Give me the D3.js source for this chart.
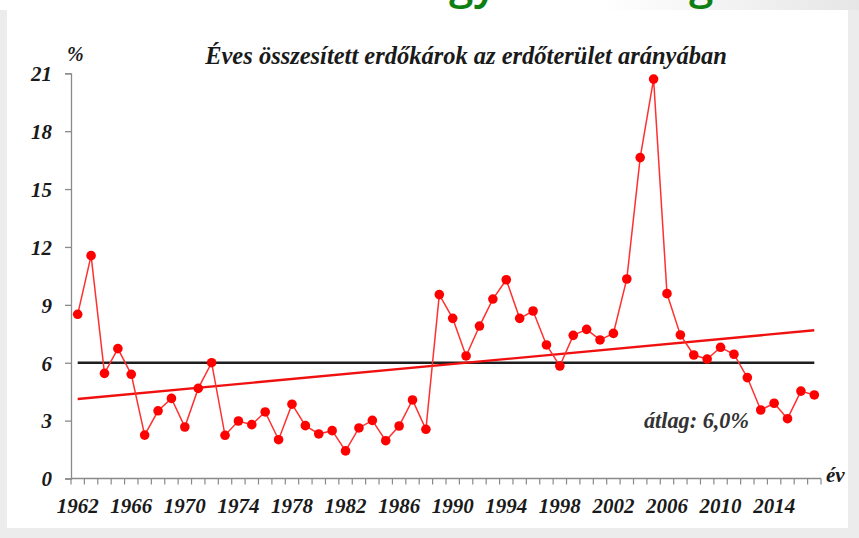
<!DOCTYPE html>
<html>
<head>
<meta charset="utf-8">
<script src="https://cdn.jsdelivr.net/npm/d3@7"></script>
<style>
  html, body { margin: 0; padding: 0; background: #ececec; }
  svg { display: block; }
</style>
</head>
<body>
<svg id="chart" width="859" height="538"></svg>
<script>
// ---- data ----
const years = d3.range(1962, 2018);
const damage = [
  8.51, 11.55, 5.45, 6.73, 5.40, 2.25, 3.51, 4.15, 2.67, 4.67,
  6.00, 2.24, 2.98, 2.79, 3.45, 2.01, 3.85, 2.74, 2.31, 2.48,
  1.43, 2.62, 3.01, 1.96, 2.72, 4.07, 2.55, 9.53, 8.30, 6.35,
  7.90, 9.30, 10.30, 8.30, 8.68, 6.92, 5.83, 7.42, 7.73, 7.18,
  7.52, 10.34, 16.63, 20.70, 9.58, 7.44, 6.40, 6.19, 6.80, 6.44,
  5.23, 3.55, 3.90, 3.10, 4.53, 4.33
];
const meanValue = 6.0;
const yTicks = [0, 3, 6, 9, 12, 15, 18, 21];
const xTickLabels = [1962, 1966, 1970, 1974, 1978, 1982, 1986, 1990, 1994, 1998, 2002, 2006, 2010, 2014];
const titleText = "Éves összesített erdőkárok az erdőterület arányában";
const meanLabel = "átlag: 6,0%";

// ---- helpers ----
function serif(sel, size, color) {
  return sel.style("font-family", "'Liberation Serif', monospace")
    .style("font-weight", "bold").style("font-style", "italic")
    .attr("font-size", size).attr("fill", color || "#1a1a1a");
}
function fitWidth(sel, target) {
  const w = sel.node().getComputedTextLength();
  const s = +sel.attr("font-size");
  if (w > 0) sel.attr("font-size", s * target / w);
}

// ---- layout ----
const svg = d3.select("#chart");
svg.append("rect").attr("x", 7).attr("y", 10).attr("width", 841).attr("height", 518).attr("fill", "#ffffff");
const grad = svg.append("defs").append("linearGradient").attr("id", "topg").attr("x1", 0).attr("x2", 1);
grad.append("stop").attr("offset", "0").attr("stop-color", "#ffffff");
grad.append("stop").attr("offset", "0.7").attr("stop-color", "#ffffff");
grad.append("stop").attr("offset", "1").attr("stop-color", "#e6e6e6");
svg.append("rect").attr("x", 0).attr("y", 0).attr("width", 859).attr("height", 10).attr("fill", "url(#topg)");

// partial slide heading (cut off at the top, as in the source slide)
svg.append("text").attr("x", 449).attr("y", -1).attr("fill", "#0e7f12")
  .style("font-family", "'Open Sans', sans-serif").style("font-weight", "600").attr("font-size", 44).text("gy");
svg.append("text").attr("x", 689).attr("y", -1).attr("fill", "#0e7f12")
  .style("font-family", "'Open Sans', sans-serif").style("font-weight", "600").attr("font-size", 44).text("g");

const plotLeft = 71, plotRight = 821, plotTop = 73.3, plotBottom = 478.5;

const x = d3.scaleBand().domain(years).range([plotLeft, plotRight]).padding(0);
const xc = d => x(d) + x.bandwidth() / 2;
const y = d3.scaleLinear().domain([0, 21]).range([plotBottom, plotTop]);

const axisColor = "#8a8a8a";

// y axis
const yAxis = svg.append("g").attr("transform", `translate(${plotLeft},0)`)
  .call(d3.axisLeft(y).tickValues(yTicks).tickSize(6).tickFormat(d3.format("d")));
yAxis.attr("font-family", null).attr("font-size", null);
yAxis.select(".domain").attr("stroke", axisColor).attr("stroke-width", 1.3);
yAxis.selectAll(".tick line").attr("stroke", axisColor).attr("stroke-width", 1.3);
serif(yAxis.selectAll(".tick text").attr("x", -19).attr("dy", "0.35em"), 21);

// x axis: ticks between categories
const xAxisG = svg.append("g").attr("transform", `translate(0,${plotBottom})`);
xAxisG.append("line").attr("x1", plotLeft).attr("x2", plotRight).attr("y1", 0).attr("y2", 0)
  .attr("stroke", axisColor).attr("stroke-width", 1.3);
const boundaries = years.map(d => x(d)).concat([plotRight]);
xAxisG.selectAll("line.tk").data(boundaries).join("line").attr("class", "tk")
  .attr("x1", d => d).attr("x2", d => d).attr("y1", 0).attr("y2", 6)
  .attr("stroke", axisColor).attr("stroke-width", 1.2);
serif(xAxisG.selectAll("text.lbl").data(xTickLabels).join("text").attr("class", "lbl")
  .attr("x", d => xc(d)).attr("y", 34).attr("text-anchor", "middle").text(d => d), 21);

// labels
serif(svg.append("text").attr("x", 67).attr("y", 61).text("%"), 20);
serif(svg.append("text").attr("x", 826).attr("y", 482).text("év"), 21);
const title = serif(svg.append("text").attr("x", 466).attr("y", 64).attr("text-anchor", "middle").text(titleText), 20);
fitWidth(title, 522);

// mean line
svg.append("line")
  .attr("x1", xc(years[0])).attr("x2", xc(years[years.length - 1]))
  .attr("y1", y(meanValue)).attr("y2", y(meanValue))
  .attr("stroke", "#1e1e1e").attr("stroke-width", 2.4);

// linear trend (least squares)
const n = years.length;
const mx = d3.mean(years), my = d3.mean(damage);
const slope = d3.sum(years, (d, i) => (d - mx) * (damage[i] - my)) / d3.sum(years, d => (d - mx) ** 2);
const trend = yr => my + slope * (yr - mx);
svg.append("line")
  .attr("x1", xc(years[0])).attr("x2", xc(years[n - 1]))
  .attr("y1", y(trend(years[0]))).attr("y2", y(trend(years[n - 1])))
  .attr("stroke", "#f01010").attr("stroke-width", 2.4);

// data line
const line = d3.line().x((d, i) => xc(years[i])).y(d => y(d));
svg.append("path").datum(damage).attr("d", line)
  .attr("fill", "none").attr("stroke", "#ff3030").attr("stroke-width", 1.5);
svg.selectAll("circle.pt").data(damage).join("circle").attr("class", "pt")
  .attr("cx", (d, i) => xc(years[i])).attr("cy", d => y(d)).attr("r", 4.8)
  .attr("fill", "#ff0000");

// mean label
const ml = serif(svg.append("text").attr("x", 644).attr("y", 428).text(meanLabel), 22, "#333333");
fitWidth(ml, 105);
</script>
</body>
</html>
